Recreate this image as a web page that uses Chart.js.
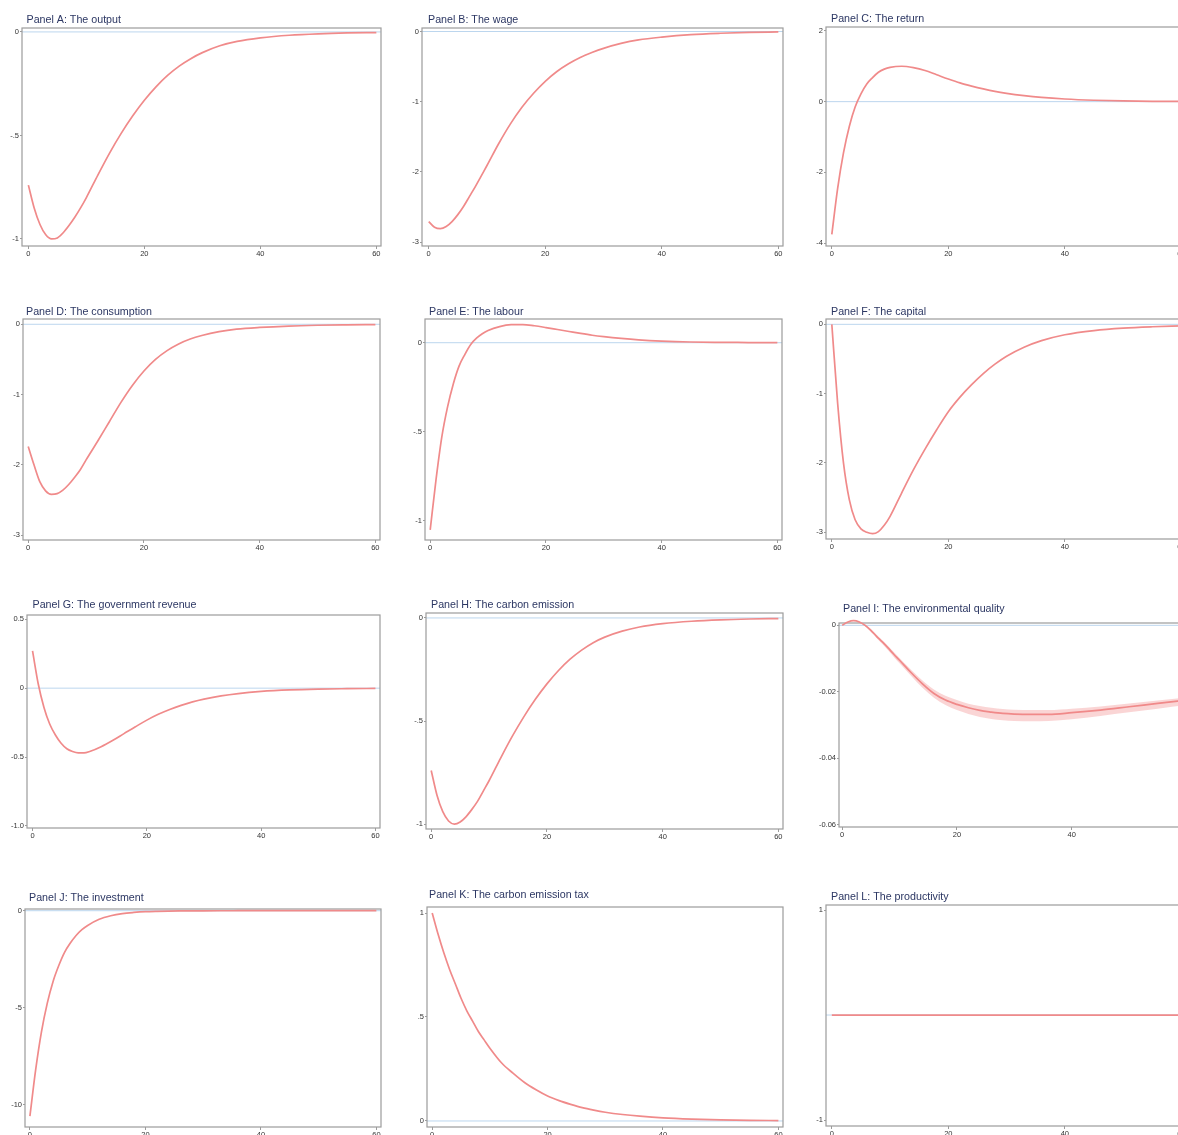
<!DOCTYPE html>
<html><head><meta charset="utf-8">
<script src="https://cdn.jsdelivr.net/npm/chart.js@4.4.1/dist/chart.umd.min.js"></script>
<style>
html,body{margin:0;padding:0;background:#fff;overflow:hidden;width:1178px;height:1135px;}
#wrap{position:relative;width:1178px;height:1135px;overflow:hidden;background:#fff;}
canvas{position:absolute;}
</style></head><body><div id="wrap"></div>
<script>
// ---- data ----
const periods = [0,1,2,3,4,5,6,7,8,9,10,12,14,16,18,20,22,24,26,28,30,33,36,40,45,50,55,60];
const xTickValues = [0,20,40,60];
const xTickLabels = ['0','20','40','60'];

const output = [-0.74,-0.85,-0.93,-0.98,-1.0,-0.995,-0.97,-0.935,-0.895,-0.85,-0.80,-0.69,-0.585,-0.49,-0.405,-0.33,-0.265,-0.21,-0.165,-0.129,-0.10,-0.067,-0.046,-0.029,-0.016,-0.009,-0.005,-0.003];
const wage = [-2.71,-2.79,-2.81,-2.78,-2.71,-2.61,-2.49,-2.35,-2.21,-2.06,-1.91,-1.60,-1.32,-1.08,-0.88,-0.71,-0.57,-0.46,-0.37,-0.30,-0.24,-0.17,-0.12,-0.08,-0.045,-0.025,-0.012,-0.006];
const ret = [-3.75,-2.45,-1.45,-0.70,-0.15,0.22,0.50,0.68,0.83,0.92,0.97,1.0,0.96,0.88,0.76,0.64,0.53,0.44,0.36,0.29,0.235,0.17,0.12,0.075,0.04,0.02,0.01,0.005];
const consumption = [-1.74,-2.0,-2.24,-2.37,-2.42,-2.41,-2.36,-2.28,-2.18,-2.07,-1.93,-1.665,-1.39,-1.115,-0.87,-0.665,-0.50,-0.375,-0.28,-0.21,-0.16,-0.105,-0.07,-0.045,-0.025,-0.014,-0.008,-0.004];
const labour = [-1.05,-0.77,-0.53,-0.36,-0.23,-0.13,-0.065,-0.01,0.025,0.05,0.068,0.09,0.101,0.102,0.095,0.085,0.074,0.063,0.052,0.042,0.034,0.024,0.016,0.009,0.004,0.002,0.001,0.0];
const capital = [0,-1.14,-2.0,-2.53,-2.82,-2.95,-3.0,-3.02,-2.99,-2.90,-2.77,-2.43,-2.10,-1.80,-1.52,-1.26,-1.05,-0.87,-0.71,-0.575,-0.46,-0.33,-0.235,-0.15,-0.09,-0.055,-0.035,-0.022];
const govRevenue = [0.27,0.03,-0.14,-0.26,-0.34,-0.40,-0.44,-0.46,-0.47,-0.47,-0.46,-0.425,-0.38,-0.33,-0.28,-0.232,-0.19,-0.155,-0.125,-0.10,-0.08,-0.056,-0.039,-0.024,-0.013,-0.007,-0.004,-0.002];
const carbonEmission = [-0.74,-0.86,-0.94,-0.985,-1.0,-0.99,-0.965,-0.93,-0.89,-0.84,-0.79,-0.68,-0.575,-0.48,-0.395,-0.32,-0.255,-0.20,-0.156,-0.12,-0.093,-0.064,-0.044,-0.028,-0.016,-0.009,-0.005,-0.003];
const envQuality = [0,0.001,0.0014,0.001,0.0,-0.0015,-0.0033,-0.005,-0.0068,-0.0087,-0.0105,-0.0142,-0.0176,-0.0205,-0.0225,-0.0238,-0.0248,-0.0256,-0.0261,-0.0265,-0.0267,-0.0268,-0.0268,-0.0263,-0.0255,-0.0245,-0.0235,-0.0225];
const envQualityUpper = [0,0.0011,0.0015,0.0012,0.0003,-0.0011,-0.0028,-0.0045,-0.0062,-0.0080,-0.0098,-0.0134,-0.0166,-0.0193,-0.0212,-0.0225,-0.0236,-0.0243,-0.0248,-0.0252,-0.0254,-0.0255,-0.0255,-0.0251,-0.0244,-0.0235,-0.0226,-0.0217];
const envQualityLower = [0,0.0009,0.0013,0.0008,-0.0003,-0.0019,-0.0038,-0.0056,-0.0075,-0.0095,-0.0114,-0.0152,-0.0188,-0.0218,-0.0240,-0.0255,-0.0267,-0.0276,-0.0282,-0.0286,-0.0288,-0.0289,-0.0288,-0.0283,-0.0273,-0.0262,-0.0251,-0.0240];
const investment = [-10.6,-8.2,-6.25,-4.78,-3.66,-2.83,-2.15,-1.67,-1.28,-0.98,-0.76,-0.44,-0.26,-0.15,-0.09,-0.05,-0.03,-0.018,-0.01,-0.006,-0.004,-0.002,-0.001,0,0,0,0,0];
const carbonTax = [1.0,0.90,0.81,0.73,0.66,0.59,0.53,0.48,0.43,0.39,0.35,0.28,0.23,0.185,0.15,0.12,0.098,0.08,0.064,0.052,0.042,0.031,0.023,0.015,0.009,0.005,0.003,0.002];
const productivity = [0,0,0,0,0,0,0,0,0,0,0,0,0,0,0,0,0,0,0,0,0,0,0,0,0,0,0,0];

const titles = ['Panel A: The output','Panel B: The wage','Panel C: The return','Panel D: The consumption','Panel E: The labour','Panel F: The capital','Panel G: The government revenue','Panel H: The carbon emission','Panel I: The environmental quality','Panel J: The investment','Panel K: The carbon emission tax','Panel L: The productivity'];

const yTicksA = [0,-0.5,-1],            yLabelsA = ['0','-.5','-1'];
const yTicksB = [0,-1,-2,-3],           yLabelsB = ['0','-1','-2','-3'];
const yTicksC = [2,0,-2,-4],            yLabelsC = ['2','0','-2','-4'];
const yTicksD = [0,-1,-2,-3],           yLabelsD = ['0','-1','-2','-3'];
const yTicksE = [0,-0.5,-1],            yLabelsE = ['0','-.5','-1'];
const yTicksF = [0,-1,-2,-3],           yLabelsF = ['0','-1','-2','-3'];
const yTicksG = [0.5,0,-0.5,-1],        yLabelsG = ['0.5','0','-0.5','-1.0'];
const yTicksH = [0,-0.5,-1],            yLabelsH = ['0','-.5','-1'];
const yTicksI = [0,-0.02,-0.04,-0.06],  yLabelsI = ['0','-0.02','-0.04','-0.06'];
const yTicksJ = [0,-5,-10],             yLabelsJ = ['0','-5','-10'];
const yTicksK = [1,0.5,0],              yLabelsK = ['1','.5','0'];
const yTicksL = [1,-1],                 yLabelsL = ['1','-1'];

// ---- layout (positions / axis ranges) ----
const panels = [
  {t:0, v:output, yt:yTicksA, yl:yLabelsA, box:[22,28,381,246], tp:[26.5,22.5], x:[-1.1,60.8], y:[-1.034,0.019]},
  {t:1, v:wage, yt:yTicksB, yl:yLabelsB, box:[422,28,783,246], tp:[428,23], x:[-1.15,60.8], y:[-3.057,0.05]},
  {t:2, v:ret, yt:yTicksC, yl:yLabelsC, box:[826,27,1186,246], tp:[831,22], x:[-1.0,60.8], y:[-4.08,2.11]},
  {t:3, v:consumption, yt:yTicksD, yl:yLabelsD, box:[23,319,380,540], tp:[26,315], x:[-0.9,60.8], y:[-3.07,0.075]},
  {t:4, v:labour, yt:yTicksE, yl:yLabelsE, box:[425,319,782,540], tp:[429,315], x:[-0.9,60.8], y:[-1.107,0.133]},
  {t:5, v:capital, yt:yTicksF, yl:yLabelsF, box:[826,319,1186,539], tp:[831,315], x:[-1.0,60.8], y:[-3.097,0.077]},
  {t:6, v:govRevenue, yt:yTicksG, yl:yLabelsG, box:[27,615,380,828], tp:[32.5,608], x:[-0.97,60.8], y:[-1.015,0.531]},
  {t:7, v:carbonEmission, yt:yTicksH, yl:yLabelsH, box:[426,613,783,829], tp:[431,608], x:[-0.9,60.8], y:[-1.024,0.024]},
  {t:8, v:envQuality, yt:yTicksI, yl:yLabelsI, box:[839,623,1191,827], tp:[843,612], x:[-0.55,60.8], y:[-0.0607,0.0007], lo:envQualityLower, hi:envQualityUpper},
  {t:9, v:investment, yt:yTicksJ, yl:yLabelsJ, box:[25,909,381,1127], tp:[29,901], x:[-0.85,60.8], y:[-11.16,0.088]},
  {t:10, v:carbonTax, yt:yTicksK, yl:yLabelsK, box:[427,907,783,1127], tp:[429,898], x:[-0.9,60.8], y:[-0.029,1.029]},
  {t:11, v:productivity, yt:yTicksL, yl:yLabelsL, box:[826,905,1186,1126], tp:[831,900], x:[-1.0,60.8], y:[-1.057,1.048]}
];

const FONT = '"Liberation Sans", Arial, Helvetica, sans-serif';
const YW = 30, TOP = 22, XH = 16, RP = 3;

const deco = {
  id: 'deco',
  beforeDatasetsDraw(chart, args, o) {
    const {ctx, chartArea: a} = chart;
    const y0 = chart.scales.y.getPixelForValue(0);
    ctx.save();
    ctx.strokeStyle = '#bcd6ee'; ctx.lineWidth = 1;
    ctx.beginPath(); ctx.moveTo(a.left, y0); ctx.lineTo(a.right, y0); ctx.stroke();
    ctx.strokeStyle = '#9c9c9c'; ctx.lineWidth = 1.2;
    ctx.strokeRect(a.left, a.top, a.right - a.left, a.bottom - a.top);
    ctx.restore();
  },
  afterDraw(chart, args, o) {
    const ctx = chart.ctx;
    ctx.save();
    ctx.font = '10.7px ' + FONT;
    ctx.fillStyle = '#2c3763';
    ctx.textBaseline = 'alphabetic';
    ctx.fillText(o.title, o.tx, o.ty);
    ctx.restore();
  }
};

const wrap = document.getElementById('wrap');
panels.forEach(p => {
  const [l, t, r, b] = p.box;
  const cl = l - YW, ct = t - TOP;
  const W = r - l + YW + RP, H = b - t + TOP + XH;
  const c = document.createElement('canvas');
  c.width = W; c.height = H;
  c.style.left = cl + 'px'; c.style.top = ct + 'px';
  c.style.width = W + 'px'; c.style.height = H + 'px';
  wrap.appendChild(c);
  const pts = arr => periods.map((x, i) => ({x, y: arr[i]}));
  const datasets = [];
  if (p.lo) {
    datasets.push({data: pts(p.hi), borderWidth: 0, pointRadius: 0, fill: false, cubicInterpolationMode: 'monotone', clip: false});
    datasets.push({data: pts(p.lo), borderWidth: 0, pointRadius: 0, fill: '-1', backgroundColor: 'rgba(240,135,135,0.35)', cubicInterpolationMode: 'monotone', clip: false});
  }
  datasets.push({data: pts(p.v), borderColor: '#f08a8a', borderWidth: 1.7, pointRadius: 0, fill: false, cubicInterpolationMode: 'monotone', clip: false});
  new Chart(c, {
    type: 'line',
    data: {datasets},
    plugins: [deco],
    options: {
      responsive: false, animation: false, devicePixelRatio: 1,
      layout: {padding: {top: TOP, right: RP, left: 0, bottom: 0}},
      plugins: {
        legend: {display: false}, tooltip: {enabled: false}, title: {display: false},
        deco: {title: titles[p.t], tx: p.tp[0] - cl, ty: p.tp[1] - ct}
      },
      scales: {
        x: {
          type: 'linear', min: p.x[0], max: p.x[1],
          afterBuildTicks: s => { s.ticks = xTickValues.map(v => ({value: v})); },
          ticks: {autoSkip: false, maxRotation: 0, padding: 0, color: '#333', font: {size: 7.5, family: FONT},
                  callback: v => { const i = xTickValues.indexOf(v); return i >= 0 ? xTickLabels[i] : ''; }},
          grid: {drawOnChartArea: false, tickLength: 3, color: '#9c9c9c', lineWidth: 1},
          border: {display: false},
          afterFit: s => { s.height = XH; }
        },
        y: {
          type: 'linear', min: p.y[0], max: p.y[1],
          afterBuildTicks: s => { s.ticks = p.yt.map(v => ({value: v})); },
          ticks: {autoSkip: false, padding: 1, color: '#333', font: {size: 7.5, family: FONT},
                  callback: v => { const i = p.yt.indexOf(v); return i >= 0 ? p.yl[i] : ''; }},
          grid: {drawOnChartArea: false, tickLength: 2, color: '#9c9c9c', lineWidth: 1},
          border: {display: false},
          afterFit: s => { s.width = YW; }
        }
      }
    }
  });
});
</script>
</body></html>
